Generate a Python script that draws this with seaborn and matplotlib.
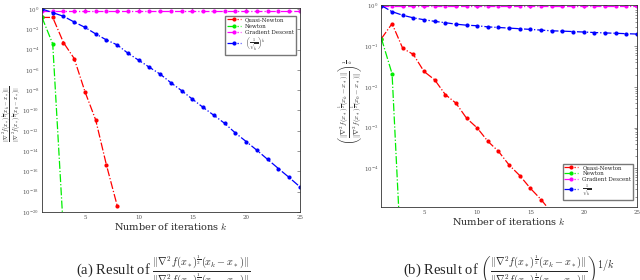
import numpy as np
import pandas as pd
import matplotlib
matplotlib.use("Agg")
import matplotlib.pyplot as plt
import seaborn as sns

sns.set_theme(style="white")
plt.rcParams["font.family"] = ["DejaVu Serif"]
plt.rcParams["mathtext.fontset"] = "cm"

iterations = list(range(1, 26))

# (a) relative error
qn_a = [0.148, 0.148, 4.9e-4, 1.3e-5, 7.1e-9, 1.15e-11, 4.1e-16, 4.1e-20]
newton_a = [0.148, 3.6e-4, 1e-22]
gd_a = [0.7] * 25
ref_a = [1.0, 0.44, 0.19, 0.052, 0.0155, 3.5e-3, 8.9e-4, 2.9e-4, 4.4e-5, 8.9e-6,
         1.8e-6, 3.8e-7, 5.4e-8, 8.9e-9, 1.3e-9, 2.0e-10, 3.3e-11, 5.4e-12,
         6.0e-13, 8.7e-14, 1.2e-14, 1.5e-15, 1.9e-16, 2.5e-17, 3.0e-18]

# (b) k-th root of relative error
qn_b = [0.155, 0.36, 0.089, 0.063, 0.024, 0.015, 6.5e-3, 4.0e-3, 1.7e-3, 9.8e-4,
        4.6e-4, 2.6e-4, 1.2e-4, 6.6e-5, 3.2e-5, 1.7e-5, 8.1e-6]
newton_b = [0.155, 0.021, 1e-7]
gd_b = [0.985] * 25
ref_b = [1.0, 0.71, 0.58, 0.5, 0.45, 0.41, 0.38, 0.35, 0.33, 0.32, 0.30, 0.29,
         0.28, 0.27, 0.26, 0.25, 0.24, 0.236, 0.23, 0.224, 0.218, 0.213, 0.209,
         0.204, 0.2]

labels = ["Quasi-Newton", "Newton", "Gradient Descent"]
ref_label_a = r"$\left(\frac{1}{\sqrt{k}}\right)^k$"
ref_label_b = r"$\frac{1}{\sqrt{k}}$"
colors = ["#ff0000", "#00ee00", "#ff00ff", "#0000ff"]

fig = plt.figure(figsize=(6.4, 2.8), dpi=100)
axa = fig.add_axes([0.0656, 0.243, 0.403, 0.729])
axb = fig.add_axes([0.596, 0.26, 0.399, 0.723])

def draw(ax, series, names):
    for vals, name, c in zip(series, names, colors):
        df = pd.DataFrame({"k": iterations[:len(vals)], "v": vals})
        sns.lineplot(data=df, x="k", y="v", ax=ax, color=c, marker="o",
                     markersize=3, markeredgewidth=0, linestyle="-.",
                     linewidth=0.9, label=name, estimator=None)
    ax.set_yscale("log")
    ax.set_xlim(1, 25)
    ax.set_xticks([5, 10, 15, 20, 25])
    ax.tick_params(axis="both", which="both", direction="in", top=True,
                   right=True, labelsize=4, labelcolor="#555555",
                   length=2, width=0.4, color="#444444", pad=2)
    ax.tick_params(axis="both", which="minor", length=1.2)
    for s in ax.spines.values():
        s.set_linewidth(0.6)
        s.set_color("#333333")
    ax.set_xlabel(r"Number of iterations $k$", fontsize=7, labelpad=1)

draw(axa, [qn_a, newton_a, gd_a, ref_a], labels + [ref_label_a])
axa.set_ylim(1e-20, 1.3)
axa.set_yticks([10.0 ** e for e in range(-20, 1, 2)])
axa.set_ylabel(r"$\frac{\|\nabla^2 f(x_*)^{\frac{1}{2}}(x_k-x_*)\|}{\|\nabla^2 f(x_*)^{\frac{1}{2}}(x_0-x_*)\|}$",
               fontsize=6.0, va="center")
axa.yaxis.set_label_coords(-0.118, 0.48)
axa.legend(loc="upper right", fontsize=4, frameon=True, fancybox=False,
           edgecolor="#555555", borderpad=0.3, handlelength=2.5,
           labelspacing=0.25, bbox_to_anchor=(0.995, 0.975))

draw(axb, [qn_b, newton_b, gd_b, ref_b], labels + [ref_label_b])
axb.set_ylim(1.1e-5, 1.05)
axb.set_yticks([1e-4, 1e-3, 1e-2, 1e-1, 1e0])
axb.set_ylabel(r"$\left(\frac{\|\nabla^2 f(x_*)^{\frac{1}{2}}(x_k-x_*)\|}{\|\nabla^2 f(x_*)^{\frac{1}{2}}(x_0-x_*)\|}\right)^{\frac{1}{k}}$",
               fontsize=7.2, va="center")
axb.yaxis.set_label_coords(-0.125, 0.52)
axb.legend(loc="lower right", fontsize=4, frameon=True, fancybox=False,
           edgecolor="#555555", borderpad=0.25, handlelength=2.5,
           labelspacing=0.15, bbox_to_anchor=(0.995, 0.02))

frac = r"\frac{\|\nabla^2 f(x_*)^{\frac{1}{2}}(x_k-x_*)\|}{\|\nabla^2 f(x_*)^{\frac{1}{2}}(x_0-x_*)\|}"
fig.text(0.255, 0.033, r"(a) Result of $" + frac + r"$", fontsize=10.5,
         ha="center", va="center", family=["Liberation Serif"])
fig.text(0.795, 0.033, r"(b) Result of $\left(" + frac + r"\right)^{1/k}$",
         fontsize=10.5, ha="center", va="center", family=["Liberation Serif"])

fig.savefig("out.png", dpi=100)
